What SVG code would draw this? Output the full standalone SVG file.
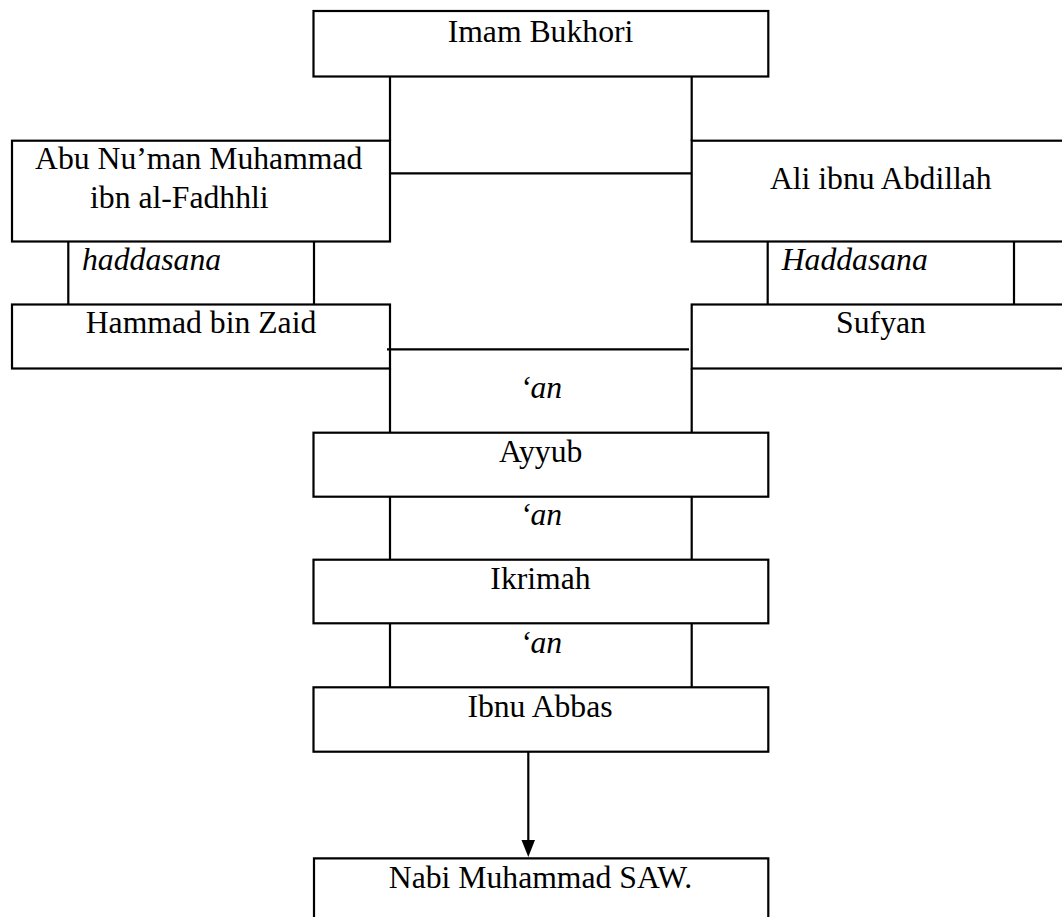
<svg xmlns="http://www.w3.org/2000/svg" width="1062" height="917" viewBox="0 0 1062 917">
<defs>
<style>
.box{fill:none;stroke:#000;stroke-width:2.2}
.ln{fill:none;stroke:#000;stroke-width:2.2}
.t{font-size:31.7px;fill:#000}
.c{text-anchor:middle}
.i{font-style:italic}
</style>
</defs>
<rect width="1062" height="917" fill="#fff"/>
<g font-family="'Liberation Serif', Tinos, 'Times New Roman', Times, 'DejaVu Serif', serif">
<g id="imam-bukhori">
<rect class="box" x="313.5" y="11" width="454.8" height="65.5"/>
<text class="t c" x="540.5" y="42">Imam Bukhori</text>
</g>
<g id="abu-numan">
<rect class="box" x="12" y="140.7" width="378" height="100.8"/>
<text class="t" x="35" y="169.3">Abu Nu’man Muhammad</text>
<text class="t" x="90" y="208.3">ibn al-Fadhhli</text>
</g>
<g id="ali-ibnu-abdillah">
<rect class="box" x="691.7" y="140.7" width="380" height="100.8"/>
<text class="t c" x="880.8" y="189">Ali ibnu Abdillah</text>
</g>
<g id="haddasana-left">
<path class="box" d="M68.3,241.5 V304.5 M314,241.5 V304.5"/>
<text class="t i" x="82" y="270">haddasana</text>
</g>
<g id="haddasana-right">
<path class="box" d="M767.7,241.5 V304.5 M1014,241.5 V304.5"/>
<text class="t i" x="781.7" y="270">Haddasana</text>
</g>
<g id="hammad-bin-zaid">
<rect class="box" x="12" y="304.5" width="378" height="64"/>
<text class="t c" x="201" y="333.3">Hammad bin Zaid</text>
</g>
<g id="sufyan">
<rect class="box" x="691.7" y="304.5" width="380" height="64"/>
<text class="t c" x="881" y="333.3">Sufyan</text>
</g>
<g id="an-1">
<path class="box" d="M390,368.5 V432.7 M691.7,368.5 V432.7"/>
<text class="t c i" x="541" y="398.3">‘an</text>
</g>
<g id="ayyub">
<rect class="box" x="313.5" y="432.7" width="454.8" height="64"/>
<text class="t c" x="540.7" y="461.7">Ayyub</text>
</g>
<g id="an-2">
<path class="box" d="M390,496.7 V559.7 M691.7,496.7 V559.7"/>
<text class="t c i" x="541" y="525">‘an</text>
</g>
<g id="ikrimah">
<rect class="box" x="313.5" y="559.7" width="454.8" height="63.6"/>
<text class="t c" x="540.5" y="589.3">Ikrimah</text>
</g>
<g id="an-3">
<path class="box" d="M390,623.3 V687.3 M691.7,623.3 V687.3"/>
<text class="t c i" x="541" y="652.7">‘an</text>
</g>
<g id="ibnu-abbas">
<rect class="box" x="313.5" y="687.3" width="454.8" height="64.4"/>
<text class="t c" x="540" y="716.7">Ibnu Abbas</text>
</g>
<g id="nabi-muhammad">
<path class="box" d="M314,930 V858.3 H768.3 V930"/>
<text class="t c" x="540.5" y="888">Nabi Muhammad SAW.</text>
</g>
</g>
<g id="connectors">
<path class="ln" d="M390,76.5 V140.7 M691.7,76.5 V140.7"/>
<path class="ln" d="M390,173.3 H691.7"/>
<path class="ln" d="M387,349.3 H689"/>
<path class="ln" d="M528.3,751.7 V842"/>
<polygon points="521.5,840 535,840 528.3,857" fill="#000"/>
</g>
</svg>
